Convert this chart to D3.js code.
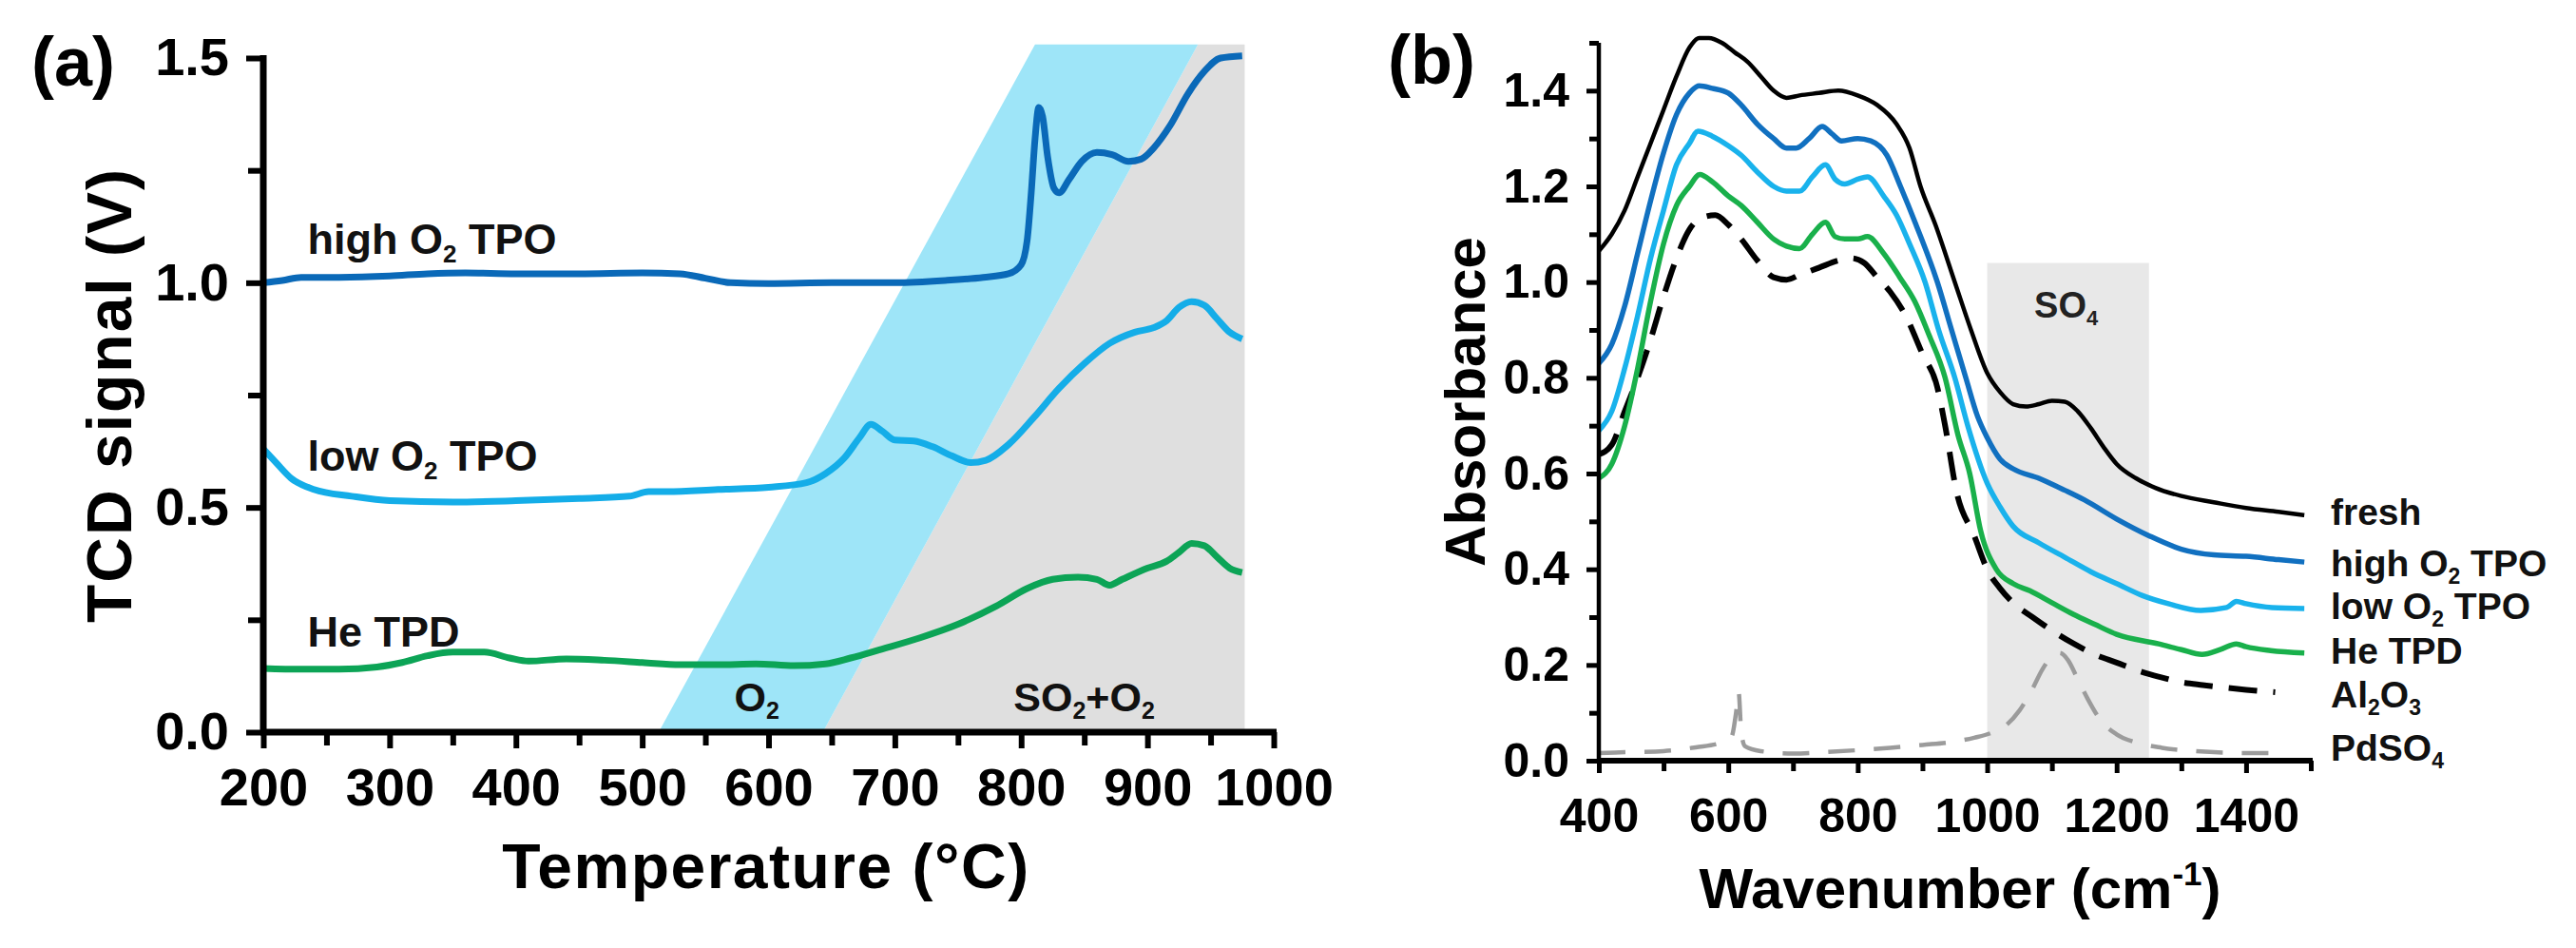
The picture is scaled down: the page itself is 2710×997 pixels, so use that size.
<!DOCTYPE html>
<html>
<head>
<meta charset="utf-8">
<script src="https://cdn.jsdelivr.net/npm/d3@7"></script>
<style>
  html, body { margin: 0; padding: 0; background: #fff; }
  svg { display: block; font-family: "Liberation Sans", Arial, Helvetica, sans-serif; }
</style>
</head>
<body>
<svg id="chart" width="2710" height="997"></svg>
<script>
// ---------- panel (a): TCD signal vs temperature, [°C, V]
const tpoHigh = [
  [200,1.00],[215,1.005],[230,1.012],[260,1.012],[300,1.015],[330,1.02],[360,1.022],[400,1.02],
  [450,1.02],[500,1.022],[530,1.02],[550,1.01],[570,1.0],[600,0.998],[650,1.0],[700,1.0],
  [740,1.005],[770,1.012],[790,1.02],[800,1.04],[805,1.10],[808,1.20],[811,1.32],[814,1.39],
  [817,1.37],[821,1.28],[826,1.21],[830,1.20],[838,1.23],[848,1.27],[860,1.29],[872,1.285],
  [885,1.27],[895,1.275],[905,1.30],[918,1.35],[932,1.42],[945,1.47],[958,1.50],[975,1.505]
];
const tpoLow = [
  [200,0.63],[210,0.60],[222,0.565],[240,0.54],[270,0.525],[300,0.515],[350,0.512],[400,0.515],
  [450,0.52],[490,0.525],[505,0.535],[520,0.535],[560,0.54],[600,0.545],[630,0.555],[645,0.575],
  [660,0.61],[672,0.655],[681,0.685],[690,0.67],[700,0.65],[715,0.648],[730,0.635],[745,0.615],
  [760,0.60],[772,0.605],[790,0.64],[810,0.70],[830,0.765],[850,0.82],[870,0.865],[890,0.89],
  [905,0.90],[915,0.915],[925,0.945],[935,0.958],[945,0.95],[955,0.92],[965,0.89],[975,0.875]
];
const tpdHe = [
  [200,0.142],[230,0.14],[260,0.14],[290,0.145],[310,0.155],[330,0.17],[350,0.178],[375,0.178],
  [395,0.165],[410,0.158],[440,0.163],[470,0.16],[500,0.155],[530,0.15],[560,0.15],[590,0.152],
  [620,0.148],[645,0.152],[665,0.165],[690,0.185],[720,0.21],[750,0.24],[780,0.28],[805,0.32],
  [825,0.34],[845,0.345],[860,0.34],[870,0.327],[880,0.34],[900,0.365],[915,0.38],[925,0.40],
  [935,0.42],[945,0.415],[955,0.39],[965,0.365],[975,0.355]
];
// shaded gas regions (corner points, °C / V)
const o2Band  = [[513,0],[811,1.53],[940,1.53],[643,0]];
const so2Band = [[643,0],[940,1.53],[977,1.53],[977,0]];
const aYTicks = [0, 0.5, 1.0, 1.5];
const aYMinor = [0.25, 0.75, 1.25];
const aXTicks = [200,300,400,500,600,700,800,900,1000];
const aXMinor = [250,350,450,550,650,750,850,950];

// ---------- panel (b): absorbance vs wavenumber, [cm-1, a.u.]
const fresh = [
  [400,1.065],[420,1.10],[440,1.15],[460,1.22],[480,1.29],[500,1.36],[520,1.43],[540,1.49],
  [555,1.51],[570,1.51],[590,1.50],[610,1.48],[630,1.46],[650,1.43],[670,1.40],[690,1.385],
  [710,1.39],[740,1.395],[770,1.40],[800,1.39],[830,1.37],[860,1.33],[880,1.28],[897,1.20],
  [920,1.12],[950,1.00],[975,0.90],[1000,0.81],[1020,0.77],[1040,0.745],[1060,0.74],[1080,0.745],
  [1100,0.752],[1120,0.75],[1140,0.73],[1160,0.695],[1180,0.655],[1200,0.62],[1230,0.59],
  [1260,0.57],[1300,0.553],[1350,0.54],[1400,0.528],[1450,0.52],[1490,0.513]
];
const highO2 = [
  [400,0.83],[420,0.87],[440,0.95],[460,1.06],[480,1.17],[500,1.27],[520,1.35],[540,1.395],
  [555,1.41],[575,1.405],[600,1.395],[620,1.37],[645,1.33],[670,1.30],[690,1.28],[705,1.28],
  [725,1.30],[745,1.325],[760,1.31],[775,1.295],[800,1.30],[820,1.295],[845,1.265],[866,1.20],
  [890,1.12],[923,1.00],[945,0.90],[967,0.80],[985,0.72],[1000,0.675],[1020,0.63],[1040,0.61],
  [1080,0.59],[1120,0.565],[1150,0.545],[1200,0.505],[1250,0.47],[1300,0.442],[1350,0.43],
  [1400,0.427],[1450,0.42],[1490,0.415]
];
const lowO2 = [
  [400,0.69],[420,0.73],[440,0.82],[460,0.93],[480,1.05],[500,1.15],[520,1.245],[540,1.29],
  [553,1.315],[575,1.305],[600,1.285],[620,1.265],[645,1.23],[670,1.20],[690,1.19],[710,1.19],
  [730,1.22],[750,1.245],[765,1.215],[780,1.205],[800,1.215],[815,1.22],[840,1.18],[860,1.14],
  [880,1.08],[904,1.00],[925,0.90],[950,0.80],[970,0.70],[1000,0.58],[1020,0.53],[1040,0.49],
  [1080,0.455],[1120,0.425],[1160,0.395],[1200,0.37],[1240,0.345],[1280,0.328],[1330,0.314],
  [1370,0.32],[1385,0.333],[1400,0.328],[1440,0.32],[1490,0.318]
];
const heTPD = [
  [400,0.59],[420,0.62],[440,0.70],[460,0.82],[480,0.96],[500,1.08],[520,1.16],[540,1.20],
  [556,1.225],[575,1.21],[600,1.18],[620,1.16],[645,1.125],[670,1.09],[690,1.075],[710,1.07],
  [730,1.10],[750,1.125],[765,1.095],[780,1.09],[800,1.09],[815,1.095],[840,1.06],[865,1.01],
  [888,0.96],[910,0.89],[935,0.80],[955,0.68],[973,0.60],[990,0.48],[1014,0.40],[1040,0.37],
  [1066,0.355],[1100,0.33],[1133,0.306],[1166,0.285],[1200,0.264],[1265,0.244],[1300,0.232],
  [1332,0.222],[1360,0.232],[1385,0.244],[1400,0.238],[1438,0.23],[1490,0.225]
];
const al2o3 = [
  [400,0.64],[420,0.66],[440,0.73],[460,0.80],[480,0.88],[500,0.97],[520,1.05],[540,1.11],
  [560,1.135],[580,1.14],[600,1.12],[620,1.09],[645,1.045],[670,1.01],[690,1.005],[710,1.015],
  [740,1.03],[770,1.045],[790,1.05],[810,1.04],[830,1.01],[850,0.98],[874,0.93],[900,0.85],
  [923,0.78],[935,0.70],[953,0.56],[980,0.47],[1000,0.40],[1020,0.36],[1040,0.33],[1070,0.30],
  [1100,0.272],[1133,0.245],[1166,0.222],[1200,0.205],[1233,0.188],[1266,0.175],[1300,0.164],
  [1333,0.158],[1365,0.153],[1400,0.148],[1445,0.143]
];
const pdso4 = [
  [400,0.016],[450,0.018],[500,0.02],[550,0.028],[590,0.038],[605,0.05],[612,0.10],[616,0.143],
  [620,0.06],[626,0.03],[650,0.02],[700,0.015],[750,0.018],[800,0.022],[850,0.027],[900,0.033],
  [950,0.04],[980,0.048],[1010,0.06],[1030,0.075],[1050,0.105],[1070,0.15],[1085,0.19],
  [1100,0.218],[1112,0.225],[1125,0.21],[1140,0.17],[1155,0.13],[1175,0.085],[1200,0.055],
  [1230,0.038],[1270,0.027],[1320,0.02],[1400,0.016],[1450,0.016]
];
const so4Box = [1000, 1250, 1.04];
const bYTicks = [0, 0.2, 0.4, 0.6, 0.8, 1.0, 1.2, 1.4];
const bYMinor = [0.1, 0.3, 0.5, 0.7, 0.9, 1.1, 1.3, 1.5];
const bXTicks = [400, 600, 800, 1000, 1200, 1400];
const bXMinor = [500, 700, 900, 1100, 1300, 1500];

const svg = d3.select('#chart');

// text with sub/superscripts: parts = ['high O', ['2','sub'], ' TPO']
function richText(t, parts, size) {
  let carry = 0;
  parts.forEach(p => {
    const sp = t.append('tspan');
    if (typeof p === 'string') {
      sp.text(p);
      if (carry) sp.attr('dy', carry);
      carry = 0;
    } else {
      const shift = p[1] === 'sub' ? 0.2 * size : -0.4 * size;
      sp.attr('font-size', Math.round(size * 0.58)).attr('dy', shift + carry).text(p[0]);
      carry = -shift;
    }
  });
  return t;
}

function tidyAxis(g, size, width) {
  g.attr('font-family', null).attr('font-size', size).attr('font-weight', 'bold');
  g.select('.domain').remove();
  g.selectAll('.tick line').attr('stroke', '#000').attr('stroke-width', width);
  g.selectAll('.tick text').attr('fill', '#000');
}

// ================= panel (a)
const xa = d3.scaleLinear().domain([200, 1000]).range([277, 1340]);
const ya = d3.scaleLinear().domain([0, 1.5]).range([770, 61]);
const pa = svg.append('g');

const poly = (pts, x, y) => pts.map(d => [x(d[0]), y(d[1])].join(',')).join(' ');
pa.append('polygon').attr('points', poly(so2Band, xa, ya)).attr('fill', '#dfdfdf');
pa.append('polygon').attr('points', poly(o2Band, xa, ya)).attr('fill', '#9ee5f8');

const lineA = d3.line().x(d => xa(d[0])).y(d => ya(d[1])).curve(d3.curveMonotoneX);
[[tpdHe, '#0ca456'], [tpoLow, '#14ade8'], [tpoHigh, '#0a69b8']].forEach(s => {
  pa.append('path').attr('d', lineA(s[0])).attr('fill', 'none')
    .attr('stroke', s[1]).attr('stroke-width', 7).attr('stroke-linejoin', 'round');
});

pa.append('g').attr('transform', 'translate(' + xa(200) + ',0)')
  .call(d3.axisLeft(ya).tickValues(aYTicks).tickSize(18).tickPadding(18).tickFormat(d3.format('.1f')))
  .call(g => tidyAxis(g, 56, 6));
pa.append('g').attr('transform', 'translate(' + xa(200) + ',0)')
  .call(d3.axisLeft(ya).tickValues(aYMinor).tickSize(16).tickFormat(''))
  .call(g => tidyAxis(g, 56, 6));
pa.append('g').attr('transform', 'translate(0,' + ya(0) + ')')
  .call(d3.axisBottom(xa).tickValues(aXTicks).tickSize(17).tickPadding(20).tickFormat(d3.format('d')))
  .call(g => tidyAxis(g, 56, 6));
pa.append('g').attr('transform', 'translate(0,' + ya(0) + ')')
  .call(d3.axisBottom(xa).tickValues(aXMinor).tickSize(14).tickFormat(''))
  .call(g => tidyAxis(g, 56, 6));
pa.append('line').attr('x1', xa(200)).attr('x2', xa(200)).attr('y1', ya(0) + 3).attr('y2', ya(1.5) - 3)
  .attr('stroke', '#000').attr('stroke-width', 7);
pa.append('line').attr('x1', xa(200) - 3).attr('x2', xa(1000) + 3).attr('y1', ya(0)).attr('y2', ya(0))
  .attr('stroke', '#000').attr('stroke-width', 7);

[[['high O', ['2', 'sub'], ' TPO'], 235, 1.064, 45],
 [['low O', ['2', 'sub'], ' TPO'], 235, 0.582, 45],
 [['He TPD'], 235, 0.19, 45],
 [['O', ['2', 'sub']], 573, 0.047, 43],
 [['SO', ['2', 'sub'], '+O', ['2', 'sub']], 794, 0.047, 43]].forEach(l => {
  const t = pa.append('text').attr('x', xa(l[1])).attr('y', ya(l[2]))
    .attr('font-size', l[3]).attr('font-weight', 'bold').attr('fill', '#111');
  richText(t, l[0], l[3]);
});

pa.append('text').attr('x', 33).attr('y', 90).attr('font-size', 72).attr('font-weight', 'bold').text('(a)');
pa.append('text').attr('x', 806).attr('y', 934).attr('text-anchor', 'middle')
  .attr('font-size', 66).attr('font-weight', 'bold').attr('letter-spacing', 1.5)
  .text('Temperature (\u00b0C)');
pa.append('text').attr('transform', 'translate(138,' + ya(0.75) + ') rotate(-90)')
  .attr('text-anchor', 'middle').attr('font-size', 66).attr('font-weight', 'bold')
  .attr('letter-spacing', 2).text('TCD signal (V)');

// ================= panel (b)
const xb = d3.scaleLinear().domain([400, 1500]).range([1682, 2431]);
const yb = d3.scaleLinear().domain([0, 1.5]).range([800, 45]);
const pb = svg.append('g');

pb.append('rect').attr('x', xb(so4Box[0])).attr('width', xb(so4Box[1]) - xb(so4Box[0]))
  .attr('y', yb(so4Box[2])).attr('height', yb(0) - yb(so4Box[2])).attr('fill', '#e8e8e8');
const so4t = pb.append('text').attr('x', xb(1122)).attr('y', 334).attr('text-anchor', 'middle')
  .attr('font-size', 38).attr('font-weight', 'bold').attr('fill', '#222');
richText(so4t, ['SO', ['4', 'sub']], 38);

const lineB = d3.line().x(d => xb(d[0])).y(d => yb(d[1])).curve(d3.curveMonotoneX);
pb.append('path').attr('d', lineB(pdso4)).attr('fill', 'none').attr('stroke', '#9b9b9b')
  .attr('stroke-width', 4.5).attr('stroke-dasharray', '28,20');
pb.append('path').attr('d', lineB(al2o3)).attr('fill', 'none').attr('stroke', '#000')
  .attr('stroke-width', 6).attr('stroke-dasharray', '30,17');
[[heTPD, '#19b04b', 5.5], [lowO2, '#19b2ec', 5.5], [highO2, '#1170c0', 5.5], [fresh, '#000', 4.5]].forEach(s => {
  pb.append('path').attr('d', lineB(s[0])).attr('fill', 'none')
    .attr('stroke', s[1]).attr('stroke-width', s[2]).attr('stroke-linejoin', 'round');
});

pb.append('g').attr('transform', 'translate(' + xb(400) + ',0)')
  .call(d3.axisLeft(yb).tickValues(bYTicks).tickSize(13).tickPadding(18).tickFormat(d3.format('.1f')))
  .call(g => tidyAxis(g, 50, 5));
pb.append('g').attr('transform', 'translate(' + xb(400) + ',0)')
  .call(d3.axisLeft(yb).tickValues(bYMinor).tickSize(10).tickFormat(''))
  .call(g => tidyAxis(g, 50, 5));
pb.append('g').attr('transform', 'translate(0,' + yb(0) + ')')
  .call(d3.axisBottom(xb).tickValues(bXTicks).tickSize(13).tickPadding(26).tickFormat(d3.format('d')))
  .call(g => tidyAxis(g, 50, 5));
pb.append('g').attr('transform', 'translate(0,' + yb(0) + ')')
  .call(d3.axisBottom(xb).tickValues(bXMinor).tickSize(11).tickFormat(''))
  .call(g => tidyAxis(g, 50, 5));
pb.append('line').attr('x1', xb(400)).attr('x2', xb(400)).attr('y1', yb(0) + 3).attr('y2', yb(1.5))
  .attr('stroke', '#000').attr('stroke-width', 4.5);
pb.append('line').attr('x1', xb(400) - 2).attr('x2', xb(1500) + 2).attr('y1', yb(0)).attr('y2', yb(0))
  .attr('stroke', '#000').attr('stroke-width', 6);

[[['fresh'], 0.52],
 [['high O', ['2', 'sub'], ' TPO'], 0.413],
 [['low O', ['2', 'sub'], ' TPO'], 0.324],
 [['He TPD'], 0.23],
 [['Al', ['2', 'sub'], 'O', ['3', 'sub']], 0.139],
 [['PdSO', ['4', 'sub']], 0.028]].forEach(l => {
  const t = pb.append('text').attr('x', 2452).attr('y', yb(l[1]) + 14)
    .attr('font-size', 39).attr('font-weight', 'bold').attr('fill', '#111');
  richText(t, l[0], 39);
});

pb.append('text').attr('x', 1460).attr('y', 88).attr('font-size', 72).attr('font-weight', 'bold').text('(b)');
const wt = pb.append('text').attr('x', 2062).attr('y', 955).attr('text-anchor', 'middle')
  .attr('font-size', 60).attr('font-weight', 'bold');
richText(wt, ['Wavenumber (cm', ['-1', 'sup'], ')'], 60);
pb.append('text').attr('transform', 'translate(1562,' + yb(0.75) + ') rotate(-90)')
  .attr('text-anchor', 'middle').attr('font-size', 60).attr('font-weight', 'bold').text('Absorbance');
</script>
</body>
</html>
